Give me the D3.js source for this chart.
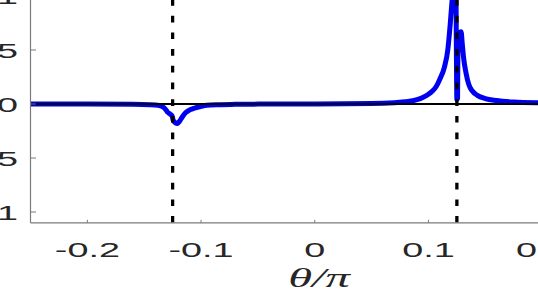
<!DOCTYPE html>
<html lang="en">
  <head>
    <meta charset="utf-8">
    <title>Response vs theta/pi</title>
    <script type="text/javascript" src="https://cdn.jsdelivr.net/npm/d3@7/dist/d3.min.js"></script>
    <style type="text/css">
      body { margin: 0; background: #fff; overflow: hidden; }
      .tick-label { font-family: "Liberation Sans", Arial, sans-serif; font-size: 21px; fill: #262626; }
      .axis-label { font-family: "Liberation Serif", "Times New Roman", serif; font-style: italic; font-size: 27px; fill: #262626; }
    </style>
  </head>
  <body>
  <script type="text/javascript">

    // values
    const theta = [-0.25, -0.2, -0.16, -0.145, -0.138, -0.134, -0.1316, -0.1295, -0.127, -0.1255,
                   -0.1245, -0.1225, -0.121, -0.119, -0.1165, -0.114, -0.11, -0.105, -0.1, -0.095,
                   -0.085, -0.07, -0.05, 0, 0.05, 0.07, 0.08, 0.09, 0.095, 0.1, 0.1035, 0.1067,
                   0.11, 0.114, 0.117, 0.119, 0.1208, 0.122, 0.1232, 0.124, 0.1245, 0.125, 0.1256,
                   0.126, 0.1275, 0.1287, 0.1298, 0.131, 0.133, 0.1355, 0.1386, 0.143, 0.15, 0.16,
                   0.175, 0.2, 0.25];
    const response = [0, 0, -0.002, -0.006, -0.012, -0.025, -0.045, -0.075, -0.095, -0.11,
                      -0.15, -0.175, -0.18, -0.16, -0.12, -0.085, -0.055, -0.035, -0.022, -0.012,
                      -0.006, -0.003, -0.001, 0, 0.004, 0.012, 0.02, 0.04, 0.06, 0.09, 0.12, 0.16,
                      0.23, 0.34, 0.5, 0.72, 0.96, 1.15, 1.3, 1.35, 0.6, 0.04, 0.05,
                      0.6, 0.66, 0.67, 0.55, 0.42, 0.29, 0.18, 0.12, 0.08, 0.05, 0.032,
                      0.018, 0.01, 0.004];
    const markers = [-0.125, 0.125];
    const xTicks = [-0.2, -0.1, 0, 0.1, 0.2];
    const xTickLabels = ["-0.2", "-0.1", "0", "0.1", "0.2"];
    const yTicks = [-1, -0.5, 0, 0.5, 1];
    const yTickLabels = ["-1", "-0.5", "0", "0.5", "1"];

    const w = 538;
    const h = 299;
    const stretch = 1.8;

    const xScale = d3.scaleLinear().domain([-0.25, 0.25]).range([30.5, 599]);
    const yScale = d3.scaleLinear().domain([-1.1, 1.1]).range([222.8, -14.8]);

    const svg = d3.select("body")
                  .append("svg")
                  .attr("width", w)
                  .attr("height", h);

    svg.append("clipPath")
       .attr("id", "plot-clip")
       .append("rect")
       .attr("x", xScale(-0.25))
       .attr("y", yScale(1.1))
       .attr("width", xScale(0.25) - xScale(-0.25))
       .attr("height", yScale(-1.1) - yScale(1.1));

    const plot = svg.append("g").attr("clip-path", "url(#plot-clip)");

    const points = theta.map((t, i) => ({x: t, y: response[i]}));

    const line = d3.line()
                   .x(d => xScale(d.x))
                   .y(d => yScale(d.y))
                   .curve(d3.curveMonotoneX);

    plot.append("path")
        .datum(points)
        .attr("d", line)
        .attr("fill", "none")
        .attr("stroke", "#0000f0")
        .attr("stroke-width", 5)
        .attr("stroke-linejoin", "round");

    // zero line
    plot.append("line")
        .attr("x1", xScale(-0.25))
        .attr("x2", xScale(0.25))
        .attr("y1", yScale(0))
        .attr("y2", yScale(0))
        .attr("stroke", "#000")
        .attr("stroke-width", 1.8);

    // dashed markers, drawn bottom to top
    plot.selectAll(".marker")
        .data(markers)
        .enter()
        .append("line")
        .attr("class", "marker")
        .attr("x1", d => xScale(d))
        .attr("x2", d => xScale(d))
        .attr("y1", yScale(-1.1))
        .attr("y2", yScale(1.1))
        .attr("stroke", "#000")
        .attr("stroke-width", 3.3)
        .attr("stroke-dasharray", "6.7 10");

    // axes
    const axisColor = "#7a7a7a";
    svg.append("line")
       .attr("x1", xScale(-0.25)).attr("x2", xScale(-0.25))
       .attr("y1", yScale(1.1)).attr("y2", yScale(-1.1))
       .attr("stroke", axisColor).attr("stroke-width", 1.2);
    svg.append("line")
       .attr("x1", xScale(-0.25)).attr("x2", xScale(0.25))
       .attr("y1", yScale(-1.1)).attr("y2", yScale(-1.1))
       .attr("stroke", axisColor).attr("stroke-width", 1.2);

    svg.selectAll(".ytick")
       .data(yTicks)
       .enter()
       .append("line")
       .attr("class", "ytick")
       .attr("x1", xScale(-0.25))
       .attr("x2", xScale(-0.25) + 5.5)
       .attr("y1", d => yScale(d))
       .attr("y2", d => yScale(d))
       .attr("stroke", axisColor)
       .attr("stroke-width", 1);

    svg.selectAll(".xtick")
       .data(xTicks)
       .enter()
       .append("line")
       .attr("class", "xtick")
       .attr("x1", d => xScale(d))
       .attr("x2", d => xScale(d))
       .attr("y1", yScale(-1.1))
       .attr("y2", yScale(-1.1) - 3)
       .attr("stroke", axisColor)
       .attr("stroke-width", 1);

    // tick labels (the picture is stretched sideways)
    svg.selectAll(".xlabel")
       .data(xTicks)
       .enter()
       .append("text")
       .attr("class", "tick-label")
       .attr("text-anchor", "middle")
       .attr("transform", d => "translate(" + xScale(d) + ",257) scale(" + stretch + ",1)")
       .text((d, i) => xTickLabels[i]);

    svg.selectAll(".ylabel")
       .data(yTicks)
       .enter()
       .append("text")
       .attr("class", "tick-label")
       .attr("text-anchor", "end")
       .attr("transform", d => "translate(18," + (yScale(d) + 8) + ") scale(" + stretch + ",1)")
       .text((d, i) => yTickLabels[i]);

    svg.append("text")
       .attr("class", "axis-label")
       .attr("text-anchor", "middle")
       .attr("transform", "translate(319,287) scale(" + stretch + ",1)")
       .text("θ/π");

  </script>
  </body>
</html>
